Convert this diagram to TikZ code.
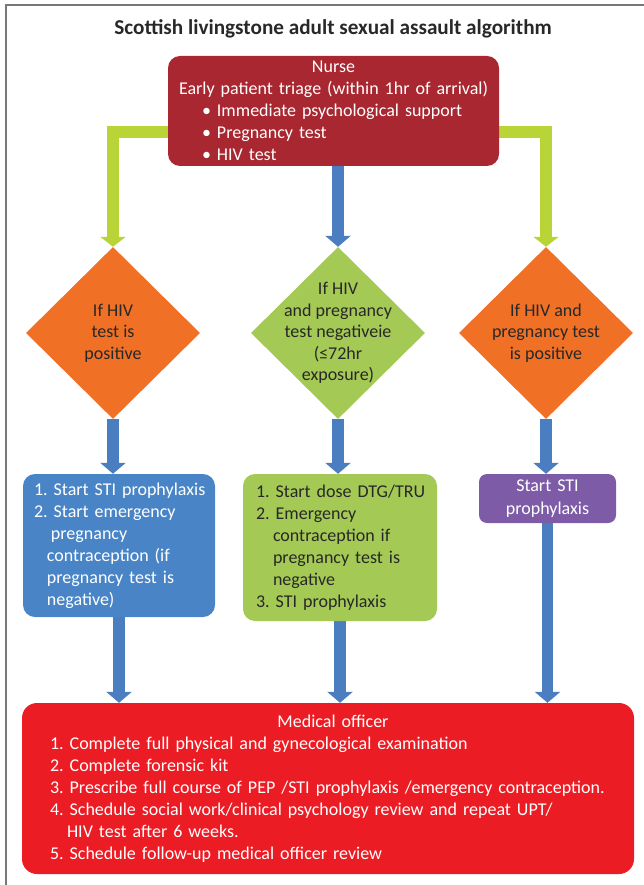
\documentclass[tikz,border=0pt]{standalone}
\usepackage{fontspec}
\setmainfont{Carlito}
\usepackage{xcolor}
\usetikzlibrary{shapes.geometric,arrows.meta,backgrounds}

\definecolor{nursered}{RGB}{168,39,48}
\definecolor{medred}{RGB}{236,28,36}
\definecolor{limearrow}{RGB}{185,212,55}
\definecolor{bluearrow}{RGB}{74,126,192}
\definecolor{diaorange}{RGB}{240,112,38}
\definecolor{leafgreen}{RGB}{164,201,85}
\definecolor{boxblue}{RGB}{73,133,198}
\definecolor{boxpurple}{RGB}{125,91,166}
\definecolor{framegray}{RGB}{120,120,120}
\definecolor{txtdark}{RGB}{40,40,40}
\frenchspacing

\begin{document}
\begin{tikzpicture}[
  x=1pt, y=-1pt,
  box/.style={rounded corners=12pt, inner sep=0pt, align=left, font=\fontsize{18}{22}\selectfont},
  dia/.style={diamond, minimum width=174pt, minimum height=172pt, inner sep=0pt},
  dtxt/.style={align=center, font=\fontsize{18}{21.5}\selectfont, text=txtdark},
  garr/.style={-{Triangle[length=10pt,width=25pt]}, line width=11.5pt, limearrow, line join=miter},
  barr/.style={-{Triangle[length=11pt,width=25pt]}, line width=11.5pt, bluearrow}
]
\useasboundingbox (0,0) rectangle (644,885);
\draw[framegray, line width=2pt] (6,885) -- (6,5) -- (644,5);

\node[font=\bfseries\fontsize{21.2}{25}\selectfont, text=txtdark] (title) at (333,29)
  {Scottish livingstone adult sexual assault algorithm};

\node[box, fill=nursered, text=white, text width=331pt, minimum height=110pt] (nurse) at (333.5,111)
  {{\centering Nurse\\Early patient triage (within 1hr of arrival)\par}
   {\leftskip=34pt \textbullet\ Immediate psychological support\\
    \textbullet\ Pregnancy test\\
    \textbullet\ HIV test\par}};

% decisions
\node[dia, fill=diaorange, label={[dtxt]center:If HIV\\test is\\positive}] (d1) at (113,333) {};
\node[dia, fill=leafgreen, label={[dtxt]center:If HIV\\and pregnancy\\test negativeie\\(≤72hr\\exposure)}] (d2) at (338,333) {};
\node[dia, fill=diaorange, label={[dtxt]center:If HIV and\\pregnancy test\\is positive}] (d3) at (546,333) {};

% actions
\node[box, fill=boxblue, text=white, text width=192pt, minimum height=143pt] (b1) at (119,545.5)
  {{\leftskip=11pt 1. Start STI prophylaxis\\
   2. Start emergency\\
   \hspace*{17pt}pregnancy\\
   \hspace*{13pt}contraception (if\\
   \hspace*{13pt}pregnancy test is\\
   \hspace*{13pt}negative)\par}};
\node[box, fill=leafgreen, text=txtdark, text width=194pt, minimum height=147pt] (b2) at (340,547.5)
  {{\leftskip=13pt 1. Start dose DTG/TRU\\
   2. Emergency\\
   \hspace*{17pt}contraception if\\
   \hspace*{17pt}pregnancy test is\\
   \hspace*{17pt}negative\\
   3. STI prophylaxis\par}};
\node[box, fill=boxpurple, text=white, rounded corners=8pt, align=center, text width=137pt, minimum height=49pt,
  font=\fontsize{18}{23.5}\selectfont] (b3) at (547.5,498.5)
  {Start STI\\prophylaxis};

\node[box, fill=medred, text=white, rounded corners=15pt, text width=612pt, minimum height=171pt] (med) at (328,788.5)
  {{\centering\hspace*{10pt}Medical officer\par}
   {\leftskip=28pt 1. Complete full physical and gynecological examination\\
   2. Complete forensic kit\\
   3. Prescribe full course of PEP /STI prophylaxis /emergency contraception.\\
   4. Schedule social work/clinical psychology review and repeat UPT/\\
   \hspace*{17pt}HIV test after 6 weeks.\\
   5. Schedule follow-up medical officer review\par}};

\begin{scope}[on background layer]
\draw[garr] ([yshift=-21pt]nurse.west) -| (d1.north);
\draw[garr] ([yshift=-21pt]nurse.east) -| (d3.north);
\draw[barr] (nurse.south -| d2.north) -- (d2.north);
\draw[barr] (d1.south) -- (d1.south |- b1.north);
\draw[barr] (d2.south) -- (d2.south |- b2.north);
\draw[barr] (d3.south) -- (d3.south |- b3.north);
\draw[barr] (b1.south) -- (b1.south |- med.north);
\draw[barr] (b2.south) -- (b2.south |- med.north);
\draw[barr] (b3.south) -- (b3.south |- med.north);
\end{scope}
\end{tikzpicture}
\end{document}
